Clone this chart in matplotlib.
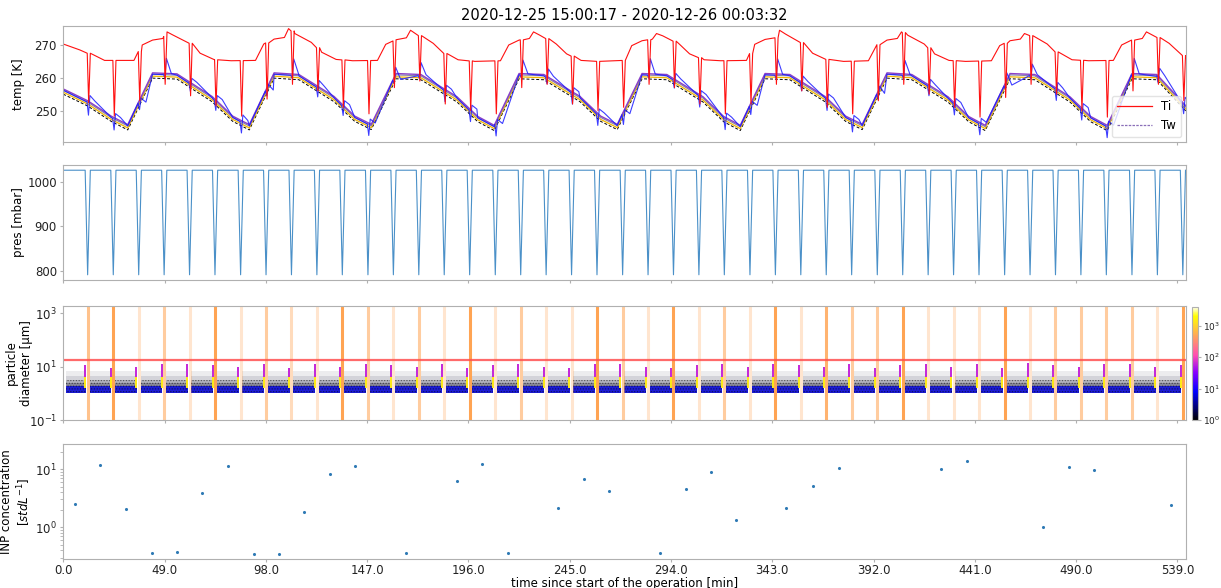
import numpy as np
import matplotlib
matplotlib.use('Agg')
import matplotlib.pyplot as plt
from matplotlib.colors import LogNorm
from matplotlib.lines import Line2D
from matplotlib.cm import ScalarMappable

# expansion (pressure drop) times [min]
pulse_t = [11.8, 24.2, 36.5, 48.8, 61.1, 73.4, 85.8, 98.1, 110.4, 122.7, 135.0,
           147.4, 159.7, 172.0, 184.3, 196.6, 209.0, 221.3, 233.6, 245.9, 258.2,
           270.6, 282.9, 295.2, 307.5, 319.8, 332.2, 344.5, 356.8, 369.1, 381.4,
           393.8, 406.1, 418.4, 430.7, 443.0, 455.4, 467.7, 480.0, 492.3, 504.6,
           517.0, 529.3, 541.6]
p_top = 1027.5
p_bot = 790.5

# wall temperature keypoints
tw_t = [0, 11.8, 23.2, 31.2, 43.2, 55,
        72, 82, 90, 102, 114,
        131, 141, 149, 161, 173,
        190.5, 200.5, 208.5, 220.5, 232.5,
        250, 260, 268, 280, 292,
        309.5, 319.5, 327.5, 339.5, 351.5,
        368.5, 378.5, 386.5, 398.5, 410.5,
        428, 438, 446, 458, 470,
        487, 497, 505, 517, 529, 543]
tw_v = [256.6, 253.0, 248.3, 245.7, 261.5, 261.2,
        254.3, 248.3, 245.7, 261.5, 261.0,
        254.3, 248.3, 245.8, 261.3, 261.0,
        254.2, 248.2, 245.5, 261.3, 261.0,
        254.3, 248.3, 245.8, 261.3, 261.0,
        254.2, 248.2, 245.5, 261.3, 261.0,
        254.3, 248.3, 245.8, 261.5, 261.0,
        254.2, 248.2, 245.5, 261.3, 261.0,
        254.2, 248.2, 245.5, 261.3, 261.0, 251.5]

# inner temperature keypoints (without expansion dips)
ti_t = [0, 8, 20,
        34.2, 38.2, 43.2, 48.2, 50.2, 53.2, 61.2, 66.2, 73.2, 81.2,
        93, 97, 102, 107, 109, 112, 120, 125, 132, 140,
        152, 156, 161, 166, 168, 171, 179, 184, 191, 199,
        211.5, 215.5, 220.5, 225.5, 227.5, 230.5, 238.5, 243.5, 250.5, 258.5,
        271, 275, 280, 285, 287, 290, 298, 303, 310, 318,
        330.5, 334.5, 339.5, 344.5, 346.5, 349.5, 357.5, 362.5, 369.5, 377.5,
        389.5, 393.5, 398.5, 403.5, 405.5, 408.5, 416.5, 421.5, 428.5, 436.5,
        449, 453, 458, 463, 465, 468, 476, 481, 488, 496,
        508, 512, 517, 522, 524, 527, 535, 543]
ti_v = [270.3, 268.5, 265.3,
        265.3, 270.0, 271.5, 272.0, 274.0, 273.0, 270.5, 267.5, 265.5, 265.2,
        265.3, 270.3, 271.8, 272.3, 275.0, 273.5, 270.8, 267.8, 265.6, 265.2,
        265.3, 270.2, 271.6, 272.2, 274.5, 273.2, 270.5, 267.5, 265.5, 265.0,
        265.2, 270.0, 271.5, 272.0, 274.0, 273.0, 270.3, 267.3, 265.3, 265.0,
        265.3, 269.8, 271.3, 271.8, 273.5, 272.8, 270.3, 267.3, 265.5, 265.2,
        265.3, 270.2, 271.7, 272.2, 274.5, 273.3, 270.5, 267.5, 265.5, 265.0,
        265.2, 270.0, 271.5, 272.0, 274.0, 273.0, 270.3, 267.3, 265.3, 265.0,
        265.2, 269.8, 271.3, 271.8, 273.5, 272.8, 270.3, 267.3, 265.5, 265.2,
        265.3, 270.0, 271.5, 272.0, 274.0, 273.0, 270.5, 266.0]

# Ti minimum during each expansion
ti_dip = [252.4, 248.3, 253, 258, 254.5, 251.4, 248.3, 253.5, 258, 256, 251,
          249, 257, 259, 252, 250, 249, 257, 258, 252, 250, 251, 258, 257, 252,
          249, 252, 258, 256, 251, 249, 253, 258, 255, 251, 248, 254, 258, 255,
          250, 248, 256, 258, 253]

# blue wall sensor: drop / overshoot at each expansion [K]
blue_down = [4, 3.5, 2, 1, 2.5, 3, 3.5, 1.5, 1, 3, 3, 3.5, 1, 1, 3.5, 3.5,
             3.5, 1, 2, 3.5, 3.5, 3, 1, 2.5, 3.5, 3.5, 2.5, 1, 2.5, 3.5, 3.5,
             1.5, 1, 3, 3.5, 3.5, 1, 1, 3.5, 3.5, 3.5, 1, 2, 3]
blue_up = [2, 1.5, 1.5, 5, 1.5, 1.5, 2, 2, 5, 2, 1.5, 1.5, 4, 4, 1.5, 1.5,
           1.5, 4.5, 2.5, 1.5, 1.5, 1.5, 5, 2, 1.5, 1.5, 1.5, 5, 2, 1.5, 1.5,
           2.5, 4.5, 2, 1.5, 1.5, 4, 3.5, 2, 1.5, 1.5, 5, 2.5, 2]

# offsets of the other wall sensors relative to the top one
tw_offsets = {'grey': -0.4, 'gold': -1.0, 'black': -1.6}

# particle panel
streak_top = [11, 9, 10, 13, 12, 11, 10, 12, 9, 12, 10, 13, 11, 10, 12, 9, 11,
              12, 10, 9, 12, 13, 10, 9, 11, 12, 10, 13, 11, 10, 12, 9, 11, 13,
              10, 12, 9, 14, 11, 10, 12, 13, 10, 11]
line_alpha = [0.6, 0.9, 0.25, 0.5, 0.25, 0.9, 0.25, 0.5, 0.35, 0.25, 0.9,
              0.5, 0.25, 0.5, 0.25, 0.9, 0.25, 0.5, 0.25, 0.25, 0.9, 0.5,
              0.25, 0.9, 0.25, 0.5, 0.25, 0.9, 0.25, 0.75, 0.5, 0.5, 0.9,
              0.25, 0.25, 0.25, 0.9, 0.25, 0.5, 0.5, 0.5, 0.5, 0.25, 0.9]
size_limit = 17.8
# shading of the sparse small-particle cloud above the dense band
cloud_edges = [1.8, 2.4, 3.2, 4.5, 7.0]
cloud_alpha = [0.5, 0.32, 0.18, 0.08]

# INP concentration
inp_t = [5.7, 17.9, 30.4, 42.8, 54.9, 67.3, 79.7, 92.1, 104.4, 116.6, 129.0,
         141.3, 165.8, 190.4, 202.5, 215.0, 239.3, 251.8, 264.0, 288.7, 301.3,
         313.4, 325.4, 349.6, 362.9, 375.3, 424.6, 437.1, 473.9, 486.5, 498.8,
         535.7]
inp_v = [2.52, 11.7, 2.04, 0.36, 0.37, 3.95, 11.1, 0.35, 0.35, 1.81, 8.3,
         11.1, 0.36, 6.3, 12.3, 0.36, 2.15, 6.8, 4.2, 0.36, 4.5, 9.0, 1.33,
         2.15, 5.15, 10.4, 10.0, 13.5, 1.02, 10.8, 9.8, 2.4]

xticks = [0, 49, 98, 147, 196, 245, 294, 343, 392, 441, 490, 539]


def with_events(kt, kv, events, before, after):
    # merge keypoints with event shapes, dropping keypoints inside each event
    kt = np.asarray(kt, float)
    kv = np.asarray(kv, float)
    keep = np.ones(len(kt), bool)
    pts = []
    for t, shape in events:
        keep &= ~((kt > t - before) & (kt < t + after))
        pts += shape
    pts += list(zip(kt[keep], kv[keep]))
    pts.sort()
    return [p[0] for p in pts], [p[1] for p in pts]


edge = '#b0b0b0'
plt.rcParams['font.size'] = 8.5
plt.rcParams['axes.edgecolor'] = edge
plt.rcParams['xtick.color'] = edge
plt.rcParams['ytick.color'] = edge
plt.rcParams['xtick.labelcolor'] = '#222222'
plt.rcParams['ytick.labelcolor'] = '#222222'
plt.rcParams['xtick.major.size'] = 2.5
plt.rcParams['xtick.major.pad'] = 1.0
plt.rcParams['ytick.major.size'] = 2.5
plt.rcParams['ytick.major.pad'] = 2.0
plt.rcParams['hatch.linewidth'] = 0.6

fig = plt.figure(figsize=(12.21, 5.88), dpi=100)
L, W = 0.0518, 0.9193
ax1 = fig.add_axes([L, 0.759, W, 0.1968])
ax2 = fig.add_axes([L, 0.5238, W, 0.1956], sharex=ax1)
ax3 = fig.add_axes([L, 0.2857, W, 0.1944], sharex=ax1)
ax4 = fig.add_axes([L, 0.0488, W, 0.1961], sharex=ax1)
cax = fig.add_axes([0.9765, 0.2857, 0.0049, 0.1927])

# ---- temperatures
tw_arr = np.array(tw_v)
ax1.plot(tw_t, tw_arr + tw_offsets['black'], color='k', ls='--', lw=0.7, dashes=(3, 2))
ax1.plot(tw_t, tw_arr + tw_offsets['gold'], color='#f2b600', lw=0.9)
ax1.plot(tw_t, tw_arr + tw_offsets['grey'], color='#8888a8', lw=0.9)
ax1.plot(tw_t, tw_arr, color='#8a3fc8', lw=1.0)

ev = []
for t, d, u in zip(pulse_t, blue_down, blue_up):
    b = np.interp(t, tw_t, tw_v) - 0.4
    ev.append((t, [(t - 0.3, b), (t + 0.4, b - d), (t + 1.1, b + u), (t + 3.5, b + 0.3)]))
bt, bv = with_events(tw_t, tw_arr - 0.4, ev, 0.3, 3.5)
ax1.plot(bt, bv, color='#1a1aff', lw=0.8, alpha=0.85)

ev = []
for t, d in zip(pulse_t, ti_dip):
    b = np.interp(t, ti_t, ti_v)
    ev.append((t, [(t - 0.2, b), (t + 0.5, d), (t + 1.3, b)]))
rt, rv = with_events(ti_t, ti_v, ev, 0.2, 1.3)
ax1.plot(rt, rv, color='#ff1010', lw=0.8)

ax1.set_ylim(240.5, 275.8)
ax1.set_yticks([250, 260, 270])
ax1.set_ylabel('temp [K]')
ax1.set_title('2020-12-25 15:00:17 - 2020-12-26 00:03:32', fontsize=10.5, pad=4)
handles = [Line2D([], [], color='#ff1010', lw=0.9),
           Line2D([], [], color='#8a6fb8', lw=0.9, ls='--', dashes=(2, 1))]
ax1.legend(handles, ['Ti', 'Tw'], loc='lower right', fontsize=8.5,
           handlelength=3, edgecolor='#dddddd', borderaxespad=0.4)

# ---- pressure
pt, pv = [0], [p_top]
for t in pulse_t:
    pt += [t - 1.2, t, t + 1.3]
    pv += [p_top, p_bot, p_top]
ax2.plot(pt, pv, color='#4a90c8', lw=0.8)
ax2.set_yticks([800, 900, 1000])
ax2.set_ylabel('pres [mbar]')

# ---- particle sizes
cmap = plt.get_cmap('gnuplot2')
norm = LogNorm(1, 4000)
starts = [1.4] + [t + 0.9 for t in pulse_t[:-1]]
ends = [t - 0.9 for t in pulse_t]
for s, e in zip(starts, ends):
    ax3.fill_between([s, e], 1.0, 1.8, color='#1c1cd4', lw=0)
    for lo, hi, a in zip(cloud_edges[:-1], cloud_edges[1:], cloud_alpha):
        ax3.fill_between([s, e], lo, hi, color='#101030', alpha=a, lw=0)
    ax3.fill_between([s, e], 1.0, 3.2, facecolor='none', edgecolor='#000000',
                     hatch='......', lw=0, alpha=0.45)
for e, top in zip(ends, streak_top):
    ax3.vlines(e - 0.2, 1.6, 4.0, color=cmap(norm(1500)), lw=1.4)
    ax3.vlines(e - 0.2, 4.0, top, color=cmap(norm(60)), lw=1.4)
for t, a in zip(pulse_t, line_alpha):
    ax3.axvline(t, color='#ff9a40', lw=2.2, alpha=a)
ax3.axhline(size_limit, color='#ff5050', lw=1.6, alpha=0.85)
ax3.set_yscale('log')
ax3.set_ylim(0.1, 1900)
ax3.set_yticks([0.1, 10, 1000])
ax3.yaxis.set_minor_locator(plt.NullLocator())
ax3.set_ylabel('particle\ndiameter [µm]')

cb = fig.colorbar(ScalarMappable(norm=norm, cmap=cmap), cax=cax)
cb.ax.tick_params(labelsize=6.5, length=2, pad=1.5)
cb.ax.minorticks_off()
cb.outline.set_edgecolor(edge)

# ---- INP
ax4.scatter(inp_t, inp_v, s=5, color='#2f7ab5', lw=0)
ax4.set_yscale('log')
ax4.set_ylim(0.28, 27)
ax4.set_ylabel('INP concentration\n[$stdL^{-1}$]')
ax4.set_xlabel('time since start of the operation [min]', labelpad=0)

ax4.set_xlim(0, 543)
ax4.set_xticks(xticks)
ax4.set_xticklabels(['%.1f' % v for v in xticks])
for ax in (ax1, ax2, ax3):
    ax.tick_params(labelbottom=False)
ax1.yaxis.set_label_coords(-0.034, 0.5)
ax2.yaxis.set_label_coords(-0.034, 0.5)
ax3.yaxis.set_label_coords(-0.027, 0.5)
ax4.yaxis.set_label_coords(-0.027, 0.5)

fig.savefig('out.png', dpi=100)
